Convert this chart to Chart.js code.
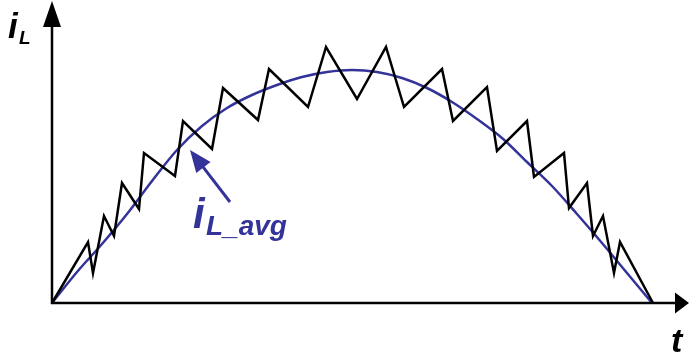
<!DOCTYPE html>
<html>
<head>
<meta charset="utf-8">
<script src="https://cdn.jsdelivr.net/npm/chart.js@4/dist/chart.umd.min.js"></script>
<style>
  html,body{margin:0;padding:0;background:#fff;}
  #wrap{width:689px;height:358px;}
</style>
</head>
<body>
<div id="wrap"><canvas id="c" width="689" height="358"></canvas></div>
<script>
// inductor current: ripple (black) and its average (blue)
const rippleT = [0,36,41,52,62,70,87,92,123,131,160,171,206,217,256,274,305,334,352,390,401,435,445,475,482,512,517,535,541,551,562,568,601];
const rippleI = [0,61,30,87,67,120,94,150,127,182,154,215,183,234,196,256,204,256,196,234,182,216,152,182,126,150,95,120,67,87,30,61,0];

const avgT = [0,25,50,75,100,125,150,175,200,225,250,275,300,325,350,375,400,425,450,475,500,525,550,575,600];
const avgI = [0,31,59,89,122,153,177,195,208,218,226,231,233,231,225,215,201,184,165,141,117,89,60,30,0];

const tMax = 637, iMax = 303;
const BLUE = '#333399';

const toXY = (ts, is) => ts.map((t, k) => ({x: t, y: is[k]}));

const axesPlugin = {
  id: 'axes',
  afterDatasetsDraw(chart){
    const {ctx, chartArea: a, scales:{x, y}} = chart;
    const x0 = x.getPixelForValue(0), y0 = y.getPixelForValue(0);
    ctx.save();
    ctx.strokeStyle = '#000'; ctx.fillStyle = '#000'; ctx.lineWidth = 2.5;
    // y axis
    ctx.beginPath(); ctx.moveTo(x0, y0 + 1); ctx.lineTo(x0, a.top + 20); ctx.stroke();
    ctx.beginPath(); ctx.moveTo(x0, a.top + 1); ctx.lineTo(x0 - 9, a.top + 27); ctx.lineTo(x0 + 9, a.top + 27); ctx.closePath(); ctx.fill();
    // x axis
    ctx.beginPath(); ctx.moveTo(x0 - 1, y0); ctx.lineTo(a.right - 10, y0); ctx.stroke();
    ctx.beginPath(); ctx.moveTo(a.right, y0); ctx.lineTo(a.right - 14, y0 - 10.5); ctx.lineTo(a.right - 14, y0 + 10.5); ctx.closePath(); ctx.fill();

    // axis labels
    ctx.textBaseline = 'alphabetic';
    ctx.font = 'italic bold 35px "Liberation Sans", Arial, sans-serif';
    ctx.fillText('i', 8, 38);
    ctx.font = 'italic bold 19px "Liberation Sans", Arial, sans-serif';
    ctx.fillText('L', 19, 44);
    ctx.font = 'italic bold 34px "Liberation Sans", Arial, sans-serif';
    ctx.fillText('t', 671, 352);

    // average label with pointer
    const tipX = x.getPixelForValue(138), tipY = y.getPixelForValue(153);
    const tailX = x.getPixelForValue(178), tailY = y.getPixelForValue(101);
    const ang = Math.atan2(tipY - tailY, tipX - tailX);
    ctx.strokeStyle = BLUE; ctx.fillStyle = BLUE; ctx.lineWidth = 3;
    ctx.beginPath(); ctx.moveTo(tailX, tailY);
    ctx.lineTo(tipX - 15 * Math.cos(ang), tipY - 15 * Math.sin(ang)); ctx.stroke();
    ctx.beginPath(); ctx.moveTo(tipX, tipY);
    ctx.lineTo(tipX - 22 * Math.cos(ang) + 9 * Math.sin(ang), tipY - 22 * Math.sin(ang) - 9 * Math.cos(ang));
    ctx.lineTo(tipX - 22 * Math.cos(ang) - 9 * Math.sin(ang), tipY - 22 * Math.sin(ang) + 9 * Math.cos(ang));
    ctx.closePath(); ctx.fill();
    ctx.font = 'italic bold 42px "Liberation Sans", Arial, sans-serif';
    ctx.fillText('i', 193, 228);
    ctx.font = 'italic bold 28px "Liberation Sans", Arial, sans-serif';
    ctx.fillText('L_avg', 206, 235);
    ctx.restore();
  }
};

new Chart(document.getElementById('c'), {
  type: 'line',
  data: {
    datasets: [
      {label: 'iL', data: toXY(rippleT, rippleI), borderColor: '#000', borderWidth: 2.5,
       tension: 0, pointRadius: 0, fill: false, clip: false},
      {label: 'iL_avg', data: toXY(avgT, avgI), borderColor: BLUE, borderWidth: 2.5,
       cubicInterpolationMode: 'monotone', pointRadius: 0, fill: false, clip: false}
    ]
  },
  options: {
    responsive: false,
    animation: false,
    events: [],
    layout: {padding: {left: 52, right: 0, top: 0, bottom: 55}},
    plugins: {legend: {display: false}, tooltip: {enabled: false}},
    scales: {
      x: {type: 'linear', min: 0, max: tMax, display: false},
      y: {type: 'linear', min: 0, max: iMax, display: false}
    }
  },
  plugins: [axesPlugin]
});
</script>
</body>
</html>
